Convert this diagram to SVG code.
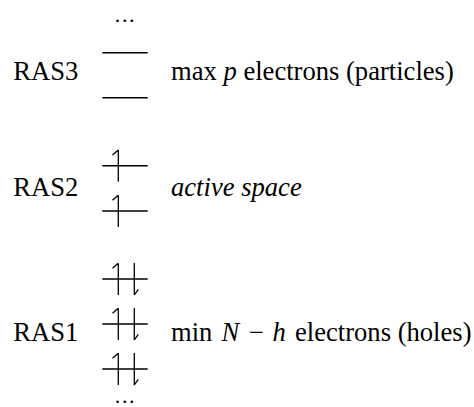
<svg xmlns="http://www.w3.org/2000/svg" width="474" height="407" viewBox="0 0 474 407">
<style>
  text { font-family: "Liberation Serif", "Times New Roman", serif; font-size: 26.6px; fill: #000; }
  .it { font-style: italic; }
  .dots { font-size: 22px; }
  .lvl { stroke: #000; stroke-width: 1.6; fill: none; }
  .spin { stroke: #000; stroke-width: 1.3; fill: none; }
</style>
<defs>
  <path id="up" d="M0,-15.7 V16 M0,-15.7 L-5.8,-10.7"/>
  <path id="dn" d="M0,-16 V16 M0,16 L4,10.3"/>
</defs>
<rect width="474" height="407" fill="#fff"/>
<g id="dots-top"><text class="dots" x="125.5" y="21.5" text-anchor="middle" letter-spacing="1.7">...</text></g>
<g id="ras3">
  <text x="13.3" y="80">RAS3</text>
  <line class="lvl" x1="102.3" y1="52.7" x2="147.7" y2="52.7"/>
  <line class="lvl" x1="102.3" y1="97.7" x2="147.7" y2="97.7"/>
  <text x="171" y="80">max <tspan class="it">p</tspan> electrons (particles)</text>
</g>
<g id="ras2">
  <text x="13.3" y="196">RAS2</text>
  <line class="lvl" x1="102.3" y1="165.7" x2="147.7" y2="165.7"/>
  <line class="lvl" x1="102.3" y1="211" x2="147.7" y2="211"/>
  <use href="#up" class="spin" x="118.3" y="165.7"/>
  <use href="#up" class="spin" x="118.3" y="211"/>
  <text x="171" y="196" class="it">active space</text>
</g>
<g id="ras1">
  <text x="13.3" y="341">RAS1</text>
  <line class="lvl" x1="102.3" y1="279" x2="147.7" y2="279"/>
  <line class="lvl" x1="102.3" y1="324" x2="147.7" y2="324"/>
  <line class="lvl" x1="102.3" y1="369" x2="147.7" y2="369"/>
  <use href="#up" class="spin" x="118.3" y="279"/>
  <use href="#dn" class="spin" x="134.3" y="279"/>
  <use href="#up" class="spin" x="118.3" y="324"/>
  <use href="#dn" class="spin" x="134.3" y="324"/>
  <use href="#up" class="spin" x="118.3" y="369"/>
  <use href="#dn" class="spin" x="134.3" y="369"/>
  <text x="171" y="341">min <tspan class="it" dx="2.5">N</tspan><tspan dx="2.5"> − </tspan><tspan class="it" dx="2.5">h</tspan><tspan dx="2.5"> electrons (holes)</tspan></text>
</g>
<g id="dots-bottom"><text class="dots" x="125.5" y="403" text-anchor="middle" letter-spacing="1.7">...</text></g>
<g id="connectors"/>
</svg>
